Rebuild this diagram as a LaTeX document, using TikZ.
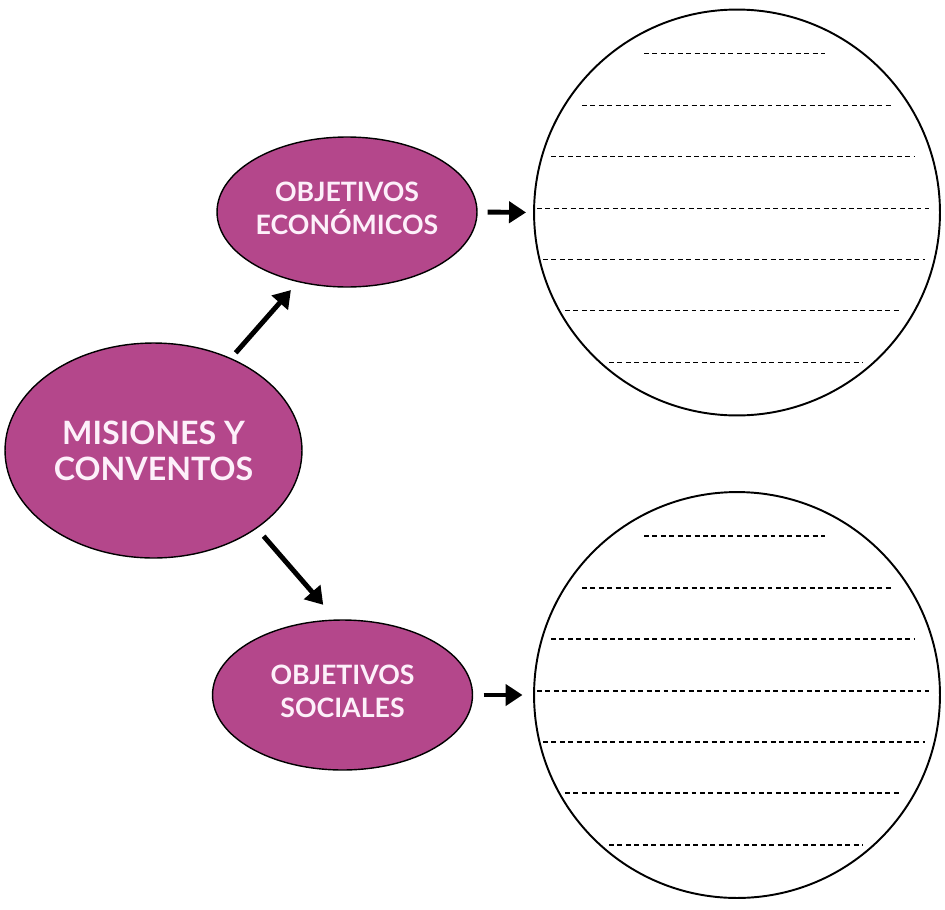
\documentclass[tikz,border=0pt]{standalone}
\usepackage{fontspec}
\setmainfont{Lato}
\usetikzlibrary{shapes.geometric, arrows.meta}
\definecolor{magenta}{RGB}{180, 71, 139}
\definecolor{pinkwhite}{RGB}{253, 240, 250}

\begin{document}
\begin{tikzpicture}[x=0.02cm, y=-0.02cm,
    bubble/.style={ellipse, draw=black, line width=0.8pt, fill=magenta,
      text=pinkwhite, align=center, inner sep=0pt, font=\bfseries},
    answer/.style={circle, draw=black, line width=1.1pt, minimum size=8.12cm, inner sep=0pt},
    dashline/.style={line width=0.8pt, dash pattern=on 2.8pt off 2pt},
    arrow/.style={line width=2.8pt, -{Triangle[length=0.34cm, width=0.42cm]}}]
      \useasboundingbox (0, 0) rectangle (945, 909);
      \node[bubble, minimum width=5.94cm, minimum height=4.3cm,
        font=\bfseries\fontsize{18.3}{20.5}\selectfont] (mis) at (153.5, 450.5)
        {MISIONES Y\\CONVENTOS};
      \node[bubble, minimum width=5.2cm, minimum height=3cm, text depth=4pt,
        font=\bfseries\fontsize{15.2}{18.7}\selectfont] (eco) at (347, 212)
        {OBJETIVOS\\ECONÓMICOS};
      \node[bubble, minimum width=5.2cm, minimum height=3cm, text depth=4pt,
        font=\bfseries\fontsize{15.2}{18.7}\selectfont] (soc) at (342.5, 695)
        {OBJETIVOS\\SOCIALES};
      \node[answer] (circEco) at (737, 212.5) {};
      \node[answer] (circSoc) at (737, 695) {};
      \draw[arrow, shorten <=4pt, shorten >=6pt] (mis.50) -- (eco.-125);
      \draw[arrow, shorten <=5.8pt, shorten >=11pt] (mis.-37) -- (soc.95);
      \draw[arrow, shorten <=5.7pt, shorten >=4pt] (eco.east) -- (circEco.west);
      \draw[arrow, shorten <=6pt, shorten >=6pt] (soc.east) -- (circSoc.west);
      \foreach \c in {circEco, circSoc} {
        \foreach \dy/\xa/\xb in {-159/-93/88, -107/-155/154, -56/-186/178,
            -4/-200/192, 47/-194/188, 98/-172/164, 150/-128/126} {
          \draw[dashline] ([shift={(\xa, \dy)}]\c.center) -- ([shift={(\xb, \dy)}]\c.center);
        }
      }
    \end{tikzpicture}
\end{document}
